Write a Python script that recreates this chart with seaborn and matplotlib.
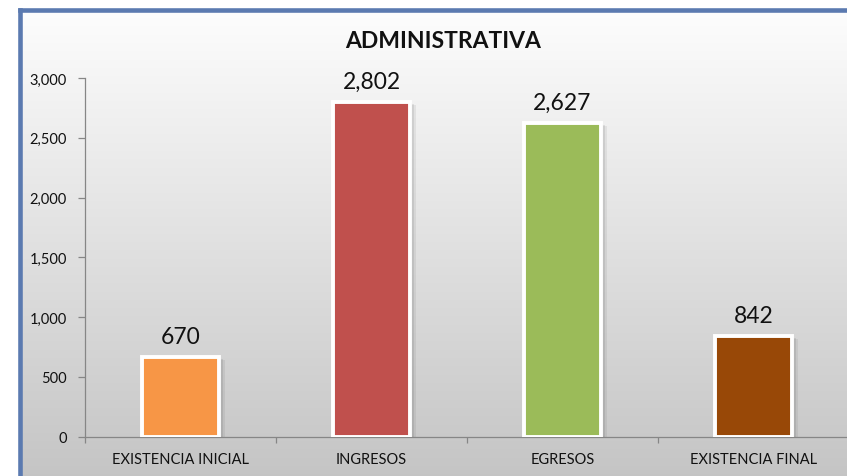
import numpy as np
import pandas as pd
import matplotlib
matplotlib.use("Agg")
import matplotlib.pyplot as plt
import matplotlib.transforms as mtransforms
from matplotlib.colors import LinearSegmentedColormap
from matplotlib.patches import Rectangle
from matplotlib.lines import Line2D
from matplotlib.ticker import FuncFormatter, FixedLocator
import seaborn as sns

categories = ["EXISTENCIA INICIAL", "INGRESOS", "EGRESOS", "EXISTENCIA FINAL"]
values = [670, 2802, 2627, 842]
colors = ["#F79646", "#C0504D", "#9BBB59", "#984807"]
title = "ADMINISTRATIVA"
yticks = [0, 500, 1000, 1500, 2000, 2500, 3000]

sns.set_theme(style="white")
plt.rcParams['font.family'] = ['Lato', 'DejaVu Sans']

W, H = 847, 477
fig = plt.figure(figsize=(W / 100, H / 100), dpi=100)
fig.patch.set_facecolor("white")
fig.patch.set_linewidth(0)

# background gradient inside the chart frame (figure fractions), running past right/bottom
x0, ytop = 19.5 / W, 1 - 10.5 / H
bg = fig.add_axes([x0, -0.05, 1.1 - x0, ytop + 0.05], zorder=-10)
grad = np.linspace(0, 1, 256).reshape(-1, 1)
cmap = LinearSegmentedColormap.from_list("g", ["#fdfdfd", "#c2c2c2"])
bg.imshow(grad, aspect="auto", cmap=cmap, extent=[0, 1, 0, 1])
bg.set_axis_off()
# frame: top and left edges only (others lie outside the picture)
fig.add_artist(Line2D([x0, x0], [-0.1, ytop], transform=fig.transFigure,
                      color="#5B7AB0", linewidth=3.3, solid_capstyle="projecting"))
fig.add_artist(Line2D([x0, 1.1], [ytop, ytop], transform=fig.transFigure,
                      color="#5B7AB0", linewidth=3.3, solid_capstyle="projecting"))

# plot area ends at the picture edge; the last category slot is cut by ~2 px as in the reference
ax = fig.add_axes([85 / W, 1 - 437.7 / H, 762 / W, (437.7 - 79) / H])
ax.patch.set_alpha(0)
ax.patch.set_edgecolor("none")

df = pd.DataFrame({"cat": categories, "val": values})
sns.barplot(data=df, x="cat", y="val", hue="cat", palette=colors, width=0.4,
            edgecolor="white", linewidth=2.8, legend=False, ax=ax, zorder=3,
            saturation=1)

# soft drop shadows
for p in list(ax.patches):
    for dx, a in [(2, 0.10), (4, 0.08), (6, 0.06)]:
        off = mtransforms.ScaledTranslation(dx / 100, -dx / 200, fig.dpi_scale_trans)
        sh = Rectangle(p.get_xy(), p.get_width(), p.get_height(),
                       facecolor="black", alpha=a, edgecolor="none",
                       transform=ax.transData + off, zorder=2)
        ax.add_patch(sh)

for c, v in zip(ax.containers, values):
    ax.bar_label(c, labels=[f"{v:,}"], padding=7, fontsize=16.5, color="#111111")

ax.set_xlim(-0.5, 3.5 - 2 / 191)
ax.set_ylim(0, 3000)
ax.set_yticks(yticks)
ax.yaxis.set_major_formatter(FuncFormatter(lambda v, _: f"{v:,.0f}"))
ax.set_xlabel("")
ax.set_ylabel("")
ax.xaxis.set_minor_locator(FixedLocator([-0.5, 0.5, 1.5, 2.5]))
ax.tick_params(axis="x", which="major", length=0, pad=11, labelsize=10.5, labelcolor="#111111")
ax.tick_params(axis="x", which="minor", bottom=True, length=4, width=0.9, color="#868686", direction="out")
ax.tick_params(axis="y", left=True, right=False, length=5, width=0.9, color="#868686", pad=8,
               labelsize=10.5, labelcolor="#111111", direction="out")
for s in ["top", "right"]:
    ax.spines[s].set_visible(False)
for s in ["left", "bottom"]:
    ax.spines[s].set_color("#868686")
    ax.spines[s].set_linewidth(0.9)

fig.text(443 / W, 1 - 41 / H, title, ha="center", va="center",
         fontsize=16.5, fontweight="bold", color="#111111")

fig.savefig("out.png", dpi=100)
